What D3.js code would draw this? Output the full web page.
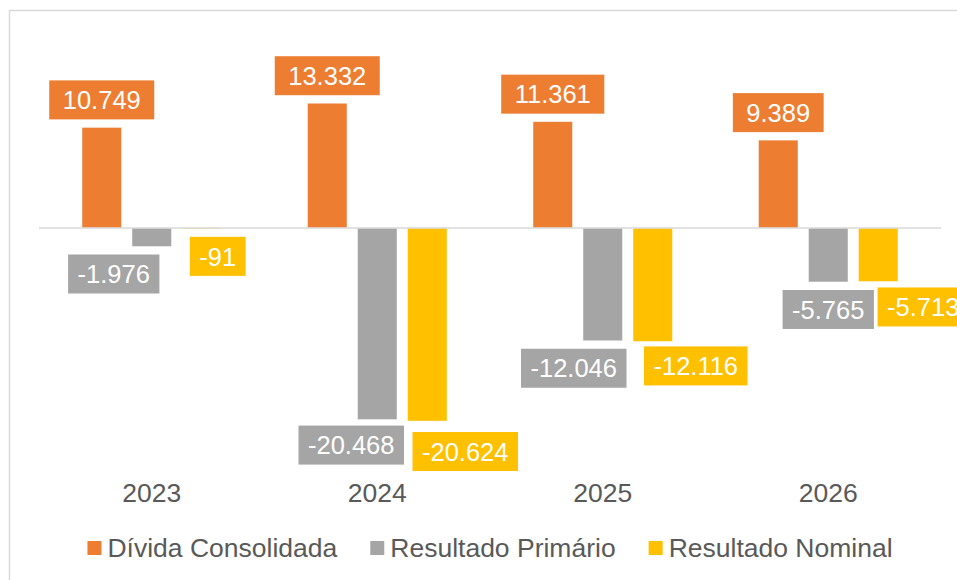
<!DOCTYPE html>
<html><head><meta charset="utf-8">
<script src="https://cdn.jsdelivr.net/npm/d3@7"></script>
<style>html,body{margin:0;padding:0;background:#fff;}svg{display:block;font-family:Arial,"Liberation Sans",sans-serif;}</style>
</head><body>
<svg id="chart" width="957" height="580"></svg>
<script>
const categories = ["2023", "2024", "2025", "2026"];
const seriesNames = ["Dívida Consolidada", "Resultado Primário", "Resultado Nominal"];
const divida = [10749, 13332, 11361, 9389];
const primario = [-1976, -20468, -12046, -5765];
const nominal = [-91, -20624, -12116, -5713];
const colors = ["#ED7D31", "#A5A5A5", "#FFC000"];
// manual label nudges (dx, dy) as placed in the original, per series per category
const labelDx = [[0,0,0,0],[-38,-26,-29,0],[16,38,43,45]];
const labelDy = [[0,0,0,0],[0,-2,0,0],[0,3,-3,-2]];

const seriesValues = [divida, primario, nominal];
const fmt = v => d3.format(",")(v).replace(/,/g, ".").replace("−","-");

const svg = d3.select("#chart");
// frame
svg.append("rect").attr("x",9.5).attr("y",10.5).attr("width",960).attr("height",580)
  .attr("fill","none").attr("stroke","#D9D9D9").attr("stroke-width",1.5);

const x0 = d3.scaleBand().domain(categories).range([39, 941]).padding(0);
const x1 = d3.scaleBand().domain(d3.range(3)).range([0, x0.bandwidth()]).paddingInner(0.21).paddingOuter(0.86);
const y = d3.scaleLinear().domain([-25000, 15000]).range([462, 87.6]);

// bars
seriesValues.forEach((vals, s) => {
  svg.append("g").selectAll("rect").data(vals).join("rect")
    .attr("x", (d,i) => x0(categories[i]) + x1(s))
    .attr("width", x1.bandwidth())
    .attr("y", d => Math.min(y(d), y(0)))
    .attr("height", d => Math.max(1, Math.abs(y(d) - y(0))))
    .attr("fill", colors[s])
    .attr("stroke", "#fff").attr("stroke-opacity", 0.6).attr("stroke-width", 0.75);
});

// zero line
svg.append("line").attr("x1",39).attr("x2",941).attr("y1",y(0)).attr("y2",y(0))
  .attr("stroke","#D9D9D9").attr("stroke-width",1.5);

// data labels
const fs = 25.5, boxH = 39, gap = 8;
seriesValues.forEach((vals, s) => {
  vals.forEach((v, i) => {
    const cx = x0(categories[i]) + x1(s) + x1.bandwidth()/2 + labelDx[s][i];
    const g = svg.append("g");
    const t = g.append("text").text(fmt(v)).attr("font-size", fs).attr("fill","#fff")
      .attr("text-anchor","middle");
    const padX = v >= 0 ? 13.5 : 9.5;
    const w = t.node().getComputedTextLength() + 2*padX;
    let top;
    if (v >= 0) top = y(v) - gap - boxH; else top = y(v) + gap;
    top += labelDy[s][i];
    g.insert("rect","text").attr("x", cx - w/2).attr("y", top).attr("width", w).attr("height", boxH)
      .attr("fill", colors[s]);
    t.attr("x", cx).attr("y", top + boxH/2 + fs*0.36);
  });
});

// category axis
const axis = svg.append("g").attr("transform","translate(0,480)")
  .call(d3.axisBottom(x0).tickSize(0).tickPadding(3));
axis.select(".domain").remove();
axis.selectAll("text").attr("font-size",26.5).attr("fill","#595959").attr("font-family",'Arial,"Liberation Sans",sans-serif');

// legend
const leg = svg.append("g");
let lx = 0;
seriesNames.forEach((n, s) => {
  const it = leg.append("g").attr("transform", `translate(${lx},0)`);
  it.append("rect").attr("x",0).attr("y",541).attr("width",14).attr("height",14).attr("fill",colors[s]);
  const t = it.append("text").attr("x",20).attr("y",556.5).attr("font-size",26.5).attr("fill","#595959").text(n);
  lx += 20 + t.node().getComputedTextLength() + 33;
});
const total = lx - 33;
leg.attr("transform", `translate(${490 - total/2},0)`);
</script>
</body></html>
